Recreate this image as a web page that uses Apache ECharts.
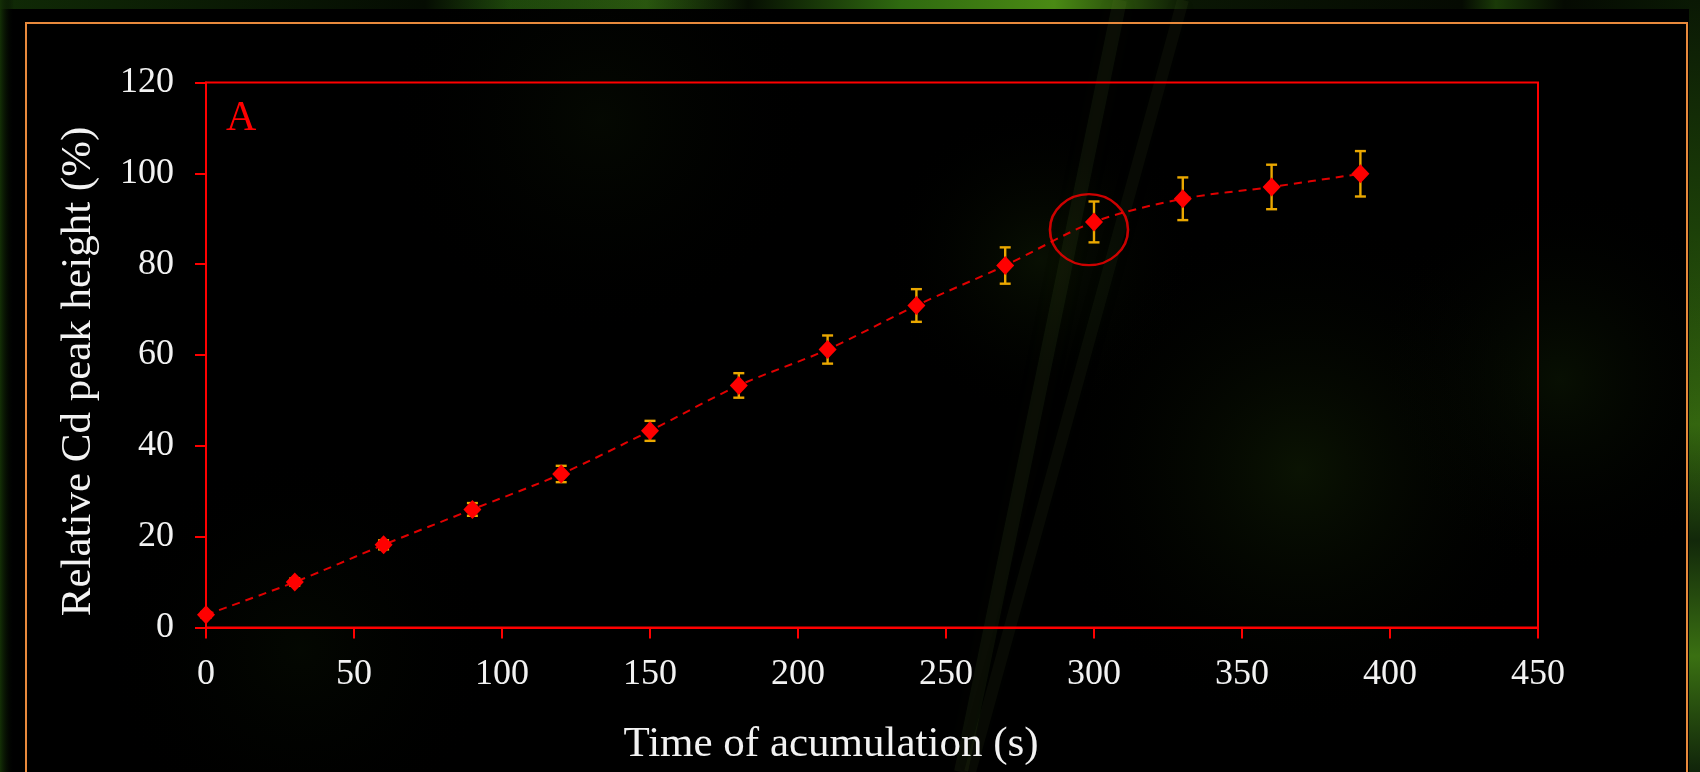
<!DOCTYPE html>
<html>
<head>
<meta charset="utf-8">
<style>
  html, body { margin: 0; padding: 0; background: #000; }
  #chart { width: 1700px; height: 772px; }
</style>
<script src="https://cdn.jsdelivr.net/npm/echarts@6/dist/echarts.min.js"></script>
</head>
<body>
<div id="chart"></div>
<script>
// ---- data ----
var times     = [0, 30, 60, 90, 120, 150, 180, 210, 240, 270, 300, 330, 360, 390];
var heights   = [2.8, 10.0, 18.2, 26.0, 33.8, 43.3, 53.3, 61.2, 70.9, 79.7, 89.3, 94.4, 97.0, 99.9];
var errors    = [0.6, 0.8, 1.0, 1.4, 1.8, 2.2, 2.7, 3.1, 3.6, 4.0, 4.5, 4.7, 4.9, 5.0];
var highlight = [[298.3, 87.6]];
var xTicks    = { min: 0, max: 450, interval: 50 };
var yTicks    = { min: 0, max: 120, interval: 20 };
var xTitle    = 'Time of acumulation (s)';
var yTitle    = 'Relative Cd peak height (%)';
var panelLabel = 'A';

var points = times.map(function (t, i) { return [t, heights[i]]; });
var bars   = times.map(function (t, i) { return [t, heights[i] - errors[i], heights[i] + errors[i]]; });

var FONT = '"Liberation Serif", "DejaVu Serif", serif';
var RED = '#ff0000';
var GOLD = '#eaa800';

var chart = echarts.init(document.getElementById('chart'), null, { renderer: 'canvas' });

function glow(cx, cy, r, color) {
  return {
    type: 'circle', z: -10, silent: true,
    shape: { cx: cx, cy: cy, r: r },
    style: { fill: { type: 'radial', x: 0.5, y: 0.5, r: 0.5,
      colorStops: [{ offset: 0, color: color }, { offset: 1, color: 'rgba(0,0,0,0)' }] } }
  };
}

var option = {
  backgroundColor: '#000000',
  animation: false,
  graphic: [
    // top green strip of the background photo
    { type: 'rect', z: -10, silent: true, shape: { x: 0, y: 0, width: 1700, height: 9 },
      style: { fill: { type: 'linear', x: 0, y: 0, x2: 1, y2: 0, colorStops: [
        { offset: 0.00, color: '#102a06' }, { offset: 0.25, color: '#050c02' },
        { offset: 0.30, color: '#1f4a0c' }, { offset: 0.38, color: '#2c5c10' },
        { offset: 0.44, color: '#060e02' }, { offset: 0.53, color: '#2f6a10' },
        { offset: 0.62, color: '#4a8a14' }, { offset: 0.70, color: '#0a1604' },
        { offset: 0.86, color: '#050a02' }, { offset: 0.88, color: '#1a3a08' },
        { offset: 0.92, color: '#050a02' }, { offset: 1.00, color: '#0a1a04' } ] } } },
    // left green strip
    { type: 'rect', z: -10, silent: true, shape: { x: 0, y: 0, width: 14, height: 772 },
      style: { fill: { type: 'linear', x: 0, y: 0, x2: 1, y2: 0, colorStops: [
        { offset: 0, color: '#143006' }, { offset: 1, color: 'rgba(0,0,0,0)' } ] } } },
    // right green strip
    { type: 'rect', z: -10, silent: true, shape: { x: 1689, y: 0, width: 11, height: 772 },
      style: { fill: { type: 'linear', x: 0, y: 0, x2: 0, y2: 1, colorStops: [
        { offset: 0.00, color: '#0a1804' }, { offset: 0.30, color: '#1c4008' },
        { offset: 0.55, color: '#386e10' }, { offset: 0.70, color: '#12280a' },
        { offset: 0.85, color: '#3a7012' }, { offset: 1.00, color: '#10240a' } ] } } },
    glow(1300, 470, 260, 'rgba(30,55,8,0.35)'),
    glow(1560, 380, 200, 'rgba(25,50,8,0.30)'),
    glow(600, 120, 220, 'rgba(25,45,8,0.18)'),
    glow(1040, 260, 160, 'rgba(30,55,8,0.28)'),
    glow(300, 650, 200, 'rgba(20,40,6,0.18)'),
    // faint diagonal grass streaks
    { type: 'line', z: -9, silent: true, shape: { x1: 1120, y1: 0, x2: 961, y2: 772 },
      style: { stroke: 'rgba(100,130,45,0.10)', lineWidth: 14, shadowBlur: 20, shadowColor: 'rgba(100,130,45,0.35)' } },
    { type: 'line', z: -9, silent: true, shape: { x1: 1183, y1: 0, x2: 970, y2: 772 },
      style: { stroke: 'rgba(100,130,45,0.08)', lineWidth: 12, shadowBlur: 20, shadowColor: 'rgba(100,130,45,0.3)' } },
    // orange slide frame
    { type: 'rect', z: 1, silent: true, shape: { x: 26, y: 23, width: 1661, height: 800 },
      style: { fill: 'none', stroke: '#e88a3c', lineWidth: 2 } },
    // panel letter
    { type: 'text', z: 10, silent: true, left: 226, top: 98,
      style: { text: panelLabel, fill: RED, font: '42px ' + FONT } }
  ],
  grid: {
    left: 206, right: 162, top: 82.5, bottom: 144.5,
    show: true, borderColor: RED, borderWidth: 2, backgroundColor: 'transparent'
  },
  xAxis: {
    type: 'value', min: xTicks.min, max: xTicks.max, interval: xTicks.interval,
    name: xTitle, nameLocation: 'middle', nameGap: 96,
    nameTextStyle: { color: '#f2f2f2', fontFamily: FONT, fontSize: 43, padding: [0, 82, 0, 0] },
    axisLine: { show: true, lineStyle: { color: RED, width: 2 } },
    axisTick: { show: true, inside: false, length: 11, lineStyle: { color: RED, width: 2 } },
    axisLabel: { color: '#f2f2f2', fontFamily: FONT, fontSize: 36, margin: 29 },
    splitLine: { show: false }
  },
  yAxis: {
    type: 'value', min: yTicks.min, max: yTicks.max, interval: yTicks.interval,
    name: yTitle, nameLocation: 'middle', nameGap: 106,
    nameTextStyle: { color: '#f2f2f2', fontFamily: FONT, fontSize: 43, padding: [0, 33, 0, 0] },
    axisLine: { show: true, lineStyle: { color: RED, width: 2 } },
    axisTick: { show: true, inside: false, length: 11, lineStyle: { color: RED, width: 2 } },
    axisLabel: { color: '#f2f2f2', fontFamily: FONT, fontSize: 36, margin: 32 },
    splitLine: { show: false }
  },
  series: [
    {
      type: 'line', data: points, smooth: 0.3, symbol: 'none', z: 2,
      lineStyle: { color: '#e00000', width: 2, type: [8, 6] }
    },
    {
      type: 'custom', z: 3, data: bars,
      renderItem: function (params, api) {
        var x = api.value(0);
        var lo = api.coord([x, api.value(1)]);
        var hi = api.coord([x, api.value(2)]);
        var hw = 5.5;
        var st = { stroke: GOLD, lineWidth: 2.4 };
        return { type: 'group', children: [
          { type: 'line', shape: { x1: lo[0], y1: lo[1], x2: hi[0], y2: hi[1] }, style: st },
          { type: 'line', shape: { x1: lo[0] - hw, y1: lo[1], x2: lo[0] + hw, y2: lo[1] }, style: st },
          { type: 'line', shape: { x1: hi[0] - hw, y1: hi[1], x2: hi[0] + hw, y2: hi[1] }, style: st }
        ]};
      }
    },
    {
      type: 'scatter', data: points, symbol: 'diamond', symbolSize: [18, 19], z: 4,
      itemStyle: { color: RED, opacity: 1 }
    },
    {
      type: 'scatter', data: highlight, symbol: 'circle', symbolSize: [78, 71], z: 5,
      itemStyle: { color: 'rgba(0,0,0,0)', borderColor: RED, borderWidth: 2.5 }
    }
  ]
};
chart.setOption(option);
</script>
</body>
</html>
